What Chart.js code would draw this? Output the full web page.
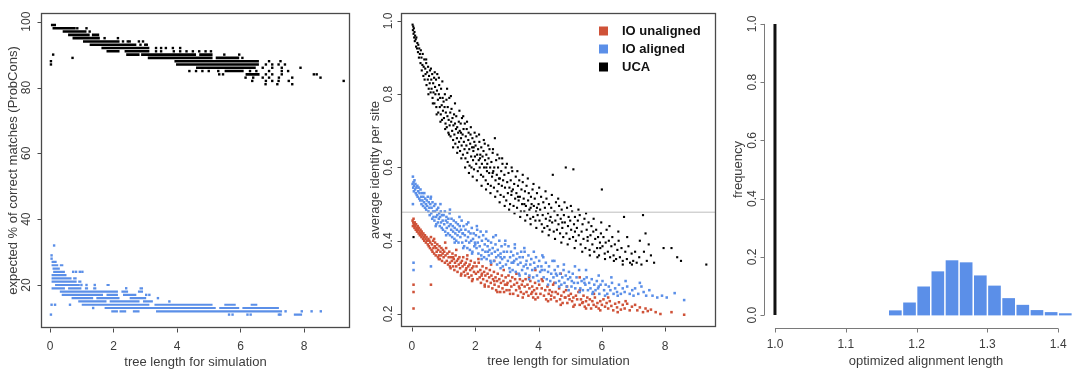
<!DOCTYPE html>
<html lang="en">
<head>
<meta charset="UTF-8">
<title>Alignment identity vs tree length</title>
<script src="https://cdn.jsdelivr.net/npm/chart.js"></script>
<style>
  body { margin: 0; background: #fff; }
  #wrap { position: relative; width: 1074px; height: 369px; }
  canvas { position: absolute; top: 0; }
</style>
</head>
<body>
<div id="wrap">
  <canvas id="matchesChart" width="360" height="369" style="left:0"></canvas>
  <canvas id="identityChart" width="360" height="369" style="left:360px"></canvas>
  <canvas id="lengthChart" width="354" height="369" style="left:720px"></canvas>
</div>
<script>
// ---- panel 1 : expected % of correct matches (ProbCons) ----
// runs of points on one integer row: [percent, x from, x to]
const ucaRuns = [
  [99, 0.03, 0.19], [98, 0.08, 0.81], [97, 0.40, 1.15], [96, 0.57, 1.25], [96, 1.32, 1.55],
  [95, 0.71, 1.57], [94, 1.04, 2.19], [93, 1.25, 2.72], [92, 1.62, 3.13],
  [91, 1.78, 2.19], [91, 2.35, 3.13], [90, 2.40, 2.82], [90, 2.87, 4.60], [90, 4.70, 5.12],
  [89, 3.08, 5.12], [89, 5.22, 5.96], [88, 3.92, 6.58], [87, 3.97, 6.58], [86, 4.60, 6.48],
  [85, 5.50, 6.10], [84, 6.16, 6.60]
];
const ucaDots = [
  [0.86, 98], [1.15, 98], [1.25, 97], [1.72, 95], [2.14, 95],
  [2.3, 94], [2.45, 94], [2.51, 94], [2.8, 94], [2.93, 94], [2.85, 93], [3.0, 93], [3.05, 93],
  [3.34, 92], [3.5, 92], [3.65, 92], [3.87, 92], [4.1, 92],
  [3.34, 91], [3.5, 91], [3.9, 91], [4.1, 91], [4.3, 91], [4.5, 91], [4.7, 91], [4.9, 91], [5.07, 91],
  [5.49, 90], [5.96, 90], [6.06, 89], [6.9, 88], [7.26, 88],
  [6.8, 87], [7.0, 87], [7.2, 87], [7.4, 87], [6.7, 86], [7.0, 86], [7.3, 86], [7.89, 86],
  [4.39, 85], [4.6, 85], [4.8, 85], [5.0, 85], [5.3, 85], [6.3, 85], [6.5, 85], [6.9, 85], [7.3, 85], [7.5, 85],
  [5.33, 84], [5.45, 84], [6.8, 84], [7.0, 84], [7.3, 84], [8.31, 84], [8.4, 84],
  [6.16, 83], [6.4, 83], [6.7, 83], [6.9, 83], [7.21, 83], [7.63, 83], [8.52, 83],
  [6.37, 82], [6.8, 82], [7.0, 82], [7.2, 82], [7.52, 82], [9.25, 82],
  [6.79, 81], [7.16, 81], [7.63, 81],
  [0.03, 88], [0.03, 87], [0.1, 90], [0.71, 89]
];
const alignedRuns = [
  [27, 0.05, 0.21], [26, 0.05, 0.26], [26, 0.31, 0.42], [25, 0.08, 0.31], [24, 0.10, 0.47],
  [23, 0.05, 0.52], [22, 0.05, 0.68], [22, 0.73, 0.84], [21, 0.05, 0.84], [21, 0.89, 0.99],
  [20, 0.16, 0.94], [20, 1.78, 1.88],
  [19, 0.05, 0.47], [19, 0.57, 0.99], [19, 1.10, 1.20], [19, 1.36, 1.46], [19, 2.82, 2.93],
  [18, 0.31, 2.14], [18, 2.25, 2.46], [18, 2.77, 2.93],
  [17, 0.37, 1.67], [17, 1.78, 2.14], [17, 2.30, 2.72],
  [16, 0.68, 1.36], [16, 1.46, 2.19], [16, 2.51, 3.03],
  [15, 0.89, 1.78], [15, 1.88, 2.82], [15, 2.93, 3.24],
  [14, 1.00, 3.13], [14, 3.29, 5.12], [14, 5.49, 5.85], [14, 6.32, 6.53],
  [13, 1.72, 5.22], [13, 5.33, 5.96], [13, 6.06, 7.21],
  [12, 1.93, 2.14], [12, 2.19, 2.40], [12, 2.61, 2.82], [12, 3.34, 7.31], [11, 7.68, 7.94]
];
const alignedDots = [
  [0.13, 32], [0.05, 29], [0.05, 28], [0.73, 24], [0.82, 24], [0.94, 24], [1.02, 24],
  [0.99, 20], [1.15, 20], [1.41, 20], [2.4, 19], [3.03, 17], [3.13, 17], [3.4, 16], [3.76, 15],
  [0.05, 14], [0.16, 14], [0.63, 14], [1.36, 13],
  [7.42, 12], [7.93, 12], [8.24, 12], [8.53, 12],
  [0.03, 11], [5.64, 11], [5.75, 11], [6.22, 11], [6.32, 11], [7.21, 11], [7.26, 11]
];

// ---- panel 2 : average identity per site ----
const seriesNames = ['IO unaligned', 'IO aligned', 'UCA'];
const ucaIdentity = [
  [0.02,0.99],[0.03,0.975],[0.04,0.985],[0.05,0.965],[0.06,0.98],[0.07,0.955],[0.08,0.97],[0.09,0.945],[0.1,0.96],
  [0.12,0.95],[0.13,0.93],[0.14,0.955],[0.16,0.925],[0.17,0.94],[0.19,0.915],[0.2,0.935],[0.22,0.9],[0.23,0.925],
  [0.25,0.91],[0.27,0.885],[0.28,0.92],
  [0.3,0.9],[0.31,0.865],[0.33,0.88],[0.34,0.91],[0.36,0.85],[0.37,0.875],[0.39,0.895],[0.4,0.84],[0.42,0.87],
  [0.43,0.855],[0.45,0.885],[0.46,0.825],[0.48,0.86],[0.5,0.84],[0.51,0.875],[0.53,0.815],[0.54,0.85],[0.56,0.83],
  [0.57,0.865],[0.59,0.805],
  [0.61,0.84],[0.62,0.815],[0.64,0.855],[0.65,0.79],[0.67,0.83],[0.68,0.805],[0.7,0.845],[0.71,0.775],[0.73,0.82],
  [0.74,0.8],[0.76,0.84],[0.77,0.765],[0.79,0.81],[0.8,0.855],[0.82,0.785],[0.83,0.75],[0.85,0.8],[0.86,0.825],
  [0.88,0.765],[0.89,0.79],[0.91,0.745],[0.92,0.815],[0.94,0.77],[0.95,0.73],[0.97,0.79],[0.98,0.755],
  [1.0,0.78],[1.01,0.735],[1.03,0.765],[1.04,0.8],[1.06,0.72],[1.07,0.75],[1.09,0.785],[1.1,0.71],[1.12,0.74],
  [1.13,0.765],[1.15,0.695],[1.16,0.73],[1.18,0.79],[1.19,0.715],[1.21,0.75],[1.22,0.685],[1.24,0.725],[1.25,0.76],
  [1.27,0.7],[1.28,0.735],[1.3,0.675],[1.31,0.715],[1.33,0.745],[1.34,0.69],[1.36,0.72],[1.37,0.665],[1.39,0.705],
  [1.4,0.74],[1.42,0.68],[1.43,0.71],[1.45,0.655],[1.46,0.695],[1.48,0.725],[1.49,0.67],
  [1.51,0.7],[1.52,0.645],[1.54,0.72],[1.55,0.68],[1.57,0.66],[1.58,0.735],[1.6,0.69],[1.61,0.635],[1.63,0.705],
  [1.64,0.67],[1.66,0.65],[1.67,0.72],[1.69,0.625],[1.7,0.685],[1.72,0.66],[1.73,0.705],[1.75,0.64],[1.76,0.615],
  [1.78,0.675],[1.79,0.695],[1.81,0.65],[1.82,0.605],[1.84,0.665],[1.85,0.69],[1.87,0.63],[1.88,0.6],[1.9,0.655],
  [1.91,0.68],[1.93,0.62],[1.94,0.645],[1.96,0.595],[1.97,0.67],[1.99,0.63],
  [2.01,0.66],[2.03,0.61],[2.04,0.685],[2.06,0.635],[2.08,0.59],[2.09,0.65],[2.11,0.62],[2.13,0.67],[2.14,0.6],
  [2.16,0.635],[2.18,0.58],[2.19,0.655],[2.21,0.61],[2.23,0.63],[2.25,0.575],[2.26,0.645],[2.28,0.6],[2.3,0.665],
  [2.31,0.62],[2.33,0.565],[2.35,0.635],[2.37,0.59],[2.38,0.61],[2.4,0.555],[2.42,0.625],[2.44,0.585],[2.45,0.65],
  [2.47,0.6],[2.49,0.55],
  [2.51,0.615],[2.53,0.575],[2.55,0.64],[2.57,0.59],[2.59,0.545],[2.6,0.6],[2.62,0.68],[2.64,0.565],[2.66,0.62],
  [2.68,0.58],[2.7,0.535],[2.72,0.6],[2.74,0.555],[2.76,0.625],[2.78,0.57],[2.8,0.525],[2.82,0.59],[2.84,0.55],
  [2.86,0.61],[2.88,0.565],[2.9,0.52],[2.92,0.58],[2.94,0.545],[2.96,0.6],[2.98,0.51],
  [3.01,0.56],[3.03,0.53],[3.05,0.585],[3.08,0.545],[3.1,0.5],[3.12,0.565],[3.14,0.525],[3.17,0.59],[3.19,0.54],
  [3.21,0.495],[3.23,0.555],[3.26,0.515],[3.28,0.575],[3.3,0.53],[3.32,0.49],[3.35,0.55],[3.37,0.51],[3.39,0.565],
  [3.41,0.52],[3.44,0.48],[3.46,0.54],[3.48,0.5],
  [3.5,0.56],[3.53,0.515],[3.55,0.48],[3.57,0.535],[3.6,0.495],[3.62,0.55],[3.64,0.47],[3.67,0.51],[3.69,0.53],
  [3.71,0.485],[3.74,0.46],[3.76,0.52],[3.78,0.5],[3.81,0.54],[3.83,0.465],[3.85,0.495],[3.88,0.515],[3.9,0.455],
  [3.92,0.48],[3.95,0.53],[3.97,0.47],
  [4.0,0.5],[4.03,0.455],[4.05,0.485],[4.08,0.52],[4.1,0.445],[4.13,0.47],[4.15,0.505],[4.18,0.435],[4.2,0.49],
  [4.23,0.46],[4.25,0.515],[4.28,0.44],[4.3,0.475],[4.33,0.5],[4.35,0.43],[4.38,0.465],[4.4,0.49],[4.43,0.45],
  [4.45,0.58],[4.48,0.425],
  [4.5,0.48],[4.53,0.455],[4.55,0.505],[4.58,0.43],[4.6,0.47],[4.63,0.445],[4.65,0.495],[4.68,0.42],[4.7,0.46],
  [4.73,0.485],[4.75,0.435],[4.78,0.41],[4.8,0.47],[4.83,0.45],[4.86,0.6],[4.88,0.42],[4.9,0.49],[4.93,0.44],
  [4.95,0.465],[4.98,0.405],
  [5.0,0.455],[5.03,0.43],[5.06,0.48],[5.09,0.41],[5.1,0.595],[5.12,0.445],[5.15,0.465],[5.18,0.4],[5.21,0.435],
  [5.24,0.455],[5.27,0.415],[5.3,0.47],[5.33,0.39],[5.36,0.425],[5.39,0.445],[5.42,0.405],[5.45,0.46],[5.48,0.38],
  [5.52,0.43],[5.55,0.4],[5.58,0.45],[5.61,0.375],[5.64,0.415],[5.67,0.44],[5.7,0.39],[5.73,0.425],[5.76,0.37],
  [5.79,0.405],[5.82,0.43],[5.85,0.38],[5.88,0.41],[5.91,0.36],[5.94,0.395],[5.97,0.42],
  [6.0,0.54],[6.02,0.385],[6.05,0.41],[6.09,0.365],[6.12,0.395],[6.15,0.43],[6.19,0.37],[6.22,0.4],[6.26,0.355],
  [6.3,0.385],[6.33,0.41],[6.37,0.36],[6.41,0.39],[6.45,0.35],[6.49,0.375],[6.53,0.4],[6.57,0.355],[6.62,0.38],
  [6.66,0.345],[6.7,0.465],[6.74,0.37],[6.79,0.35],[6.84,0.385],[6.89,0.34],[6.94,0.365],[6.99,0.345],
  [7.05,0.37],[7.1,0.34],[7.18,0.355],[7.25,0.335],[7.3,0.47],[7.33,0.37],[7.38,0.42],[7.42,0.345],[7.48,0.39],
  [7.55,0.36],[7.65,0.34],[7.95,0.38],[8.2,0.38],[8.38,0.355],[8.5,0.345],[9.3,0.335],[0.05,0.41],
  // edges of the cloud
  [0.45,0.895],[0.52,0.8],[0.6,0.87],[0.66,0.775],[0.72,0.86],[0.78,0.745],[0.85,0.845],[0.9,0.725],[0.96,0.835],
  [1.05,0.705],[1.11,0.815],[1.17,0.69],[1.23,0.795],[1.3,0.655],[1.36,0.775],[1.43,0.64],[1.5,0.755],[1.56,0.625],
  [1.62,0.74],[1.68,0.6],[1.74,0.725],[1.8,0.585],[1.86,0.71],[1.92,0.575],[1.98,0.695],[2.05,0.565],[2.12,0.69],
  [2.2,0.55],[2.27,0.675],[2.34,0.54],[2.41,0.66],[2.48,0.53],[2.56,0.65],[2.63,0.52],[2.7,0.635],[2.77,0.505],
  [2.85,0.625],[2.93,0.495],[3.0,0.61],[3.07,0.485],[3.15,0.6],[3.24,0.475],[3.33,0.59],[3.42,0.465],[3.5,0.58],
  [3.58,0.455],[3.66,0.57],[3.75,0.445],[3.84,0.555],[3.93,0.435],[4.02,0.545],[4.12,0.425],[4.22,0.535],
  [4.32,0.415],[4.42,0.525],[4.52,0.405],[4.62,0.515],[4.72,0.395],[4.82,0.505],[4.92,0.39],[5.02,0.495],
  [5.14,0.38],[5.26,0.485],[5.38,0.37],[5.5,0.475],[5.62,0.36],[5.74,0.46],[5.86,0.355],[5.98,0.45],[6.1,0.35],
  [6.24,0.44],[6.38,0.345],[6.52,0.425],[6.66,0.335],[6.8,0.41],[6.95,0.335],[7.2,0.4],
  [1.55,0.695],[1.95,0.655],[2.35,0.6],[2.75,0.57],[3.15,0.535],[3.55,0.5],[3.95,0.49],[4.35,0.455],[4.75,0.45],
  [5.15,0.425],[5.55,0.41],[5.95,0.38],[2.15,0.625],[2.55,0.585],[3.35,0.52],[3.75,0.49]
];
const alignedIdentity = [
  [0.02,0.555],[0.03,0.575],[0.04,0.545],[0.05,0.56],[0.06,0.535],[0.07,0.55],[0.08,0.565],[0.1,0.54],[0.11,0.555],
  [0.12,0.53],[0.14,0.545],[0.15,0.525],[0.17,0.55],[0.18,0.52],[0.2,0.535],[0.21,0.545],[0.23,0.515],[0.24,0.53],
  [0.26,0.51],[0.27,0.54],[0.29,0.52],[0.3,0.5],[0.32,0.53],[0.33,0.51],[0.35,0.495],[0.36,0.52],[0.38,0.505],
  [0.39,0.53],[0.41,0.49],[0.42,0.515],[0.44,0.5],[0.45,0.485],[0.47,0.51],[0.48,0.495],
  [0.5,0.52],[0.52,0.48],[0.53,0.505],[0.55,0.49],[0.56,0.47],[0.58,0.5],[0.59,0.515],[0.61,0.475],[0.62,0.49],
  [0.64,0.46],[0.65,0.505],[0.67,0.48],[0.68,0.465],[0.7,0.495],[0.71,0.455],[0.73,0.48],[0.74,0.5],[0.76,0.465],
  [0.77,0.445],[0.79,0.485],[0.8,0.47],[0.82,0.45],[0.83,0.49],[0.85,0.46],[0.86,0.475],[0.88,0.44],[0.89,0.465],
  [0.91,0.48],[0.92,0.45],[0.94,0.435],[0.95,0.47],[0.97,0.455],[0.98,0.43],
  [1.0,0.47],[1.02,0.445],[1.04,0.48],[1.05,0.425],[1.07,0.455],[1.09,0.465],[1.1,0.435],[1.12,0.45],[1.14,0.42],
  [1.15,0.46],[1.17,0.44],[1.19,0.475],[1.2,0.415],[1.22,0.445],[1.24,0.43],[1.25,0.46],[1.27,0.41],[1.29,0.44],
  [1.3,0.425],[1.32,0.455],[1.34,0.405],[1.35,0.435],[1.37,0.42],[1.39,0.45],[1.4,0.4],[1.42,0.43],[1.44,0.415],
  [1.45,0.445],[1.47,0.395],[1.49,0.425],
  [1.51,0.44],[1.53,0.41],[1.55,0.43],[1.57,0.455],[1.59,0.395],[1.61,0.42],[1.63,0.44],[1.65,0.385],[1.67,0.415],
  [1.69,0.43],[1.71,0.4],[1.73,0.445],[1.75,0.38],[1.77,0.41],[1.79,0.425],[1.81,0.395],[1.83,0.375],[1.85,0.42],
  [1.87,0.4],[1.89,0.435],[1.91,0.37],[1.93,0.405],[1.95,0.42],[1.97,0.385],[1.99,0.395],
  [2.02,0.415],[2.04,0.38],[2.06,0.43],[2.08,0.395],[2.1,0.365],[2.12,0.41],[2.14,0.385],[2.17,0.425],[2.19,0.36],
  [2.21,0.4],[2.23,0.375],[2.25,0.415],[2.28,0.355],[2.3,0.39],[2.32,0.37],[2.34,0.405],[2.36,0.35],[2.39,0.385],
  [2.41,0.4],[2.43,0.36],[2.45,0.375],[2.48,0.345],
  [2.5,0.395],[2.52,0.365],[2.55,0.38],[2.57,0.41],[2.59,0.345],[2.62,0.37],[2.64,0.39],[2.66,0.355],[2.69,0.335],
  [2.71,0.375],[2.73,0.36],[2.76,0.4],[2.78,0.34],[2.8,0.365],[2.83,0.385],[2.85,0.35],[2.87,0.33],[2.9,0.37],
  [2.92,0.355],[2.94,0.39],[2.97,0.335],
  [3.0,0.37],[3.03,0.345],[3.05,0.385],[3.08,0.325],[3.1,0.355],[3.13,0.37],[3.15,0.34],[3.18,0.32],[3.2,0.36],
  [3.23,0.345],[3.25,0.38],[3.28,0.315],[3.3,0.35],[3.33,0.365],[3.35,0.335],[3.38,0.31],[3.4,0.355],[3.43,0.34],
  [3.45,0.37],[3.48,0.32],
  [3.5,0.355],[3.53,0.33],[3.56,0.37],[3.59,0.31],[3.62,0.345],[3.65,0.325],[3.68,0.36],[3.71,0.305],[3.74,0.335],
  [3.77,0.35],[3.8,0.32],[3.83,0.3],[3.86,0.34],[3.89,0.325],[3.92,0.355],[3.95,0.305],[3.98,0.33],
  [4.02,0.345],[4.05,0.315],[4.09,0.33],[4.12,0.36],[4.16,0.3],[4.19,0.32],[4.23,0.34],[4.26,0.295],[4.3,0.315],
  [4.33,0.33],[4.37,0.29],[4.4,0.31],[4.44,0.345],[4.47,0.3],[4.51,0.32],[4.54,0.285],[4.58,0.305],[4.61,0.33],
  [4.65,0.29],[4.68,0.31],[4.72,0.28],[4.75,0.3],[4.79,0.32],[4.82,0.285],[4.86,0.305],[4.89,0.275],[4.93,0.295],
  [4.96,0.315],
  [5.0,0.3],[5.04,0.275],[5.08,0.31],[5.12,0.285],[5.16,0.27],[5.2,0.3],[5.24,0.285],[5.28,0.32],[5.32,0.27],
  [5.36,0.29],[5.4,0.265],[5.44,0.295],[5.48,0.28],[5.52,0.3],[5.56,0.265],[5.6,0.285],[5.64,0.27],[5.68,0.295],
  [5.72,0.26],[5.76,0.28],[5.8,0.265],[5.84,0.29],[5.88,0.27],[5.92,0.255],[5.96,0.28],
  [6.02,0.29],[6.07,0.265],[6.12,0.28],[6.17,0.255],[6.22,0.275],[6.27,0.265],[6.32,0.285],[6.37,0.255],[6.42,0.27],
  [6.48,0.26],[6.54,0.28],[6.6,0.255],[6.66,0.27],[6.72,0.26],[6.8,0.275],[6.88,0.255],[6.96,0.265],
  [7.05,0.27],[7.15,0.255],[7.25,0.275],[7.32,0.26],[7.4,0.25],[7.5,0.265],[7.6,0.25],[7.75,0.245],[7.9,0.25],
  [8.05,0.245],[8.3,0.257],[8.6,0.238],
  [0.05,0.34],[0.05,0.32],[0.6,0.33],[0.03,0.5],
  // edges of the cloud
  [0.6,0.52],[0.75,0.44],[0.9,0.5],[1.08,0.415],[1.2,0.485],[1.35,0.395],[1.5,0.465],[1.62,0.38],[1.78,0.45],
  [1.9,0.365],[2.05,0.44],[2.2,0.35],[2.35,0.425],[2.5,0.34],[2.65,0.415],[2.8,0.325],[2.95,0.4],[3.1,0.315],
  [3.25,0.39],[3.4,0.305],[3.55,0.38],[3.7,0.295],[3.85,0.37],[4.0,0.29],[4.15,0.355],[4.3,0.28],[4.5,0.345],
  [4.65,0.275],[4.8,0.335],[4.95,0.265],[5.15,0.33],[5.3,0.26],[5.5,0.32],[5.7,0.255],[5.9,0.305],[6.1,0.25],
  [6.3,0.3],[6.5,0.25],[6.75,0.29],[7.0,0.25],[7.2,0.285],
  [1.6,0.42],[2.0,0.39],[2.4,0.37],[2.8,0.355],[3.2,0.34],[3.6,0.335],[4.1,0.32],[4.55,0.31],[5.05,0.29],
  [5.45,0.285],[5.9,0.275]
];
const unalignedIdentity = [
  [0.02,0.455],[0.03,0.44],[0.04,0.45],[0.05,0.46],[0.06,0.445],[0.08,0.435],[0.09,0.45],[0.1,0.44],[0.12,0.43],
  [0.13,0.445],[0.15,0.435],[0.16,0.425],[0.18,0.44],[0.19,0.43],[0.21,0.42],[0.22,0.435],[0.24,0.425],[0.25,0.415],
  [0.27,0.43],[0.28,0.42],[0.3,0.41],[0.31,0.425],[0.33,0.415],[0.35,0.405],[0.36,0.42],[0.38,0.41],[0.39,0.4],
  [0.41,0.415],[0.43,0.405],[0.44,0.395],[0.46,0.41],[0.48,0.4],
  [0.5,0.39],[0.52,0.405],[0.53,0.385],[0.55,0.4],[0.57,0.38],[0.58,0.395],[0.6,0.41],[0.62,0.375],[0.63,0.39],
  [0.65,0.37],[0.67,0.4],[0.68,0.38],[0.7,0.365],[0.72,0.385],[0.73,0.395],[0.75,0.36],[0.77,0.38],[0.78,0.37],
  [0.8,0.39],[0.82,0.355],[0.83,0.375],[0.85,0.36],[0.87,0.385],[0.88,0.35],[0.9,0.37],[0.92,0.36],[0.93,0.38],
  [0.95,0.345],[0.97,0.365],[0.98,0.375],
  [1.0,0.355],[1.02,0.37],[1.04,0.34],[1.06,0.36],[1.08,0.38],[1.1,0.345],[1.12,0.365],[1.14,0.335],[1.16,0.355],
  [1.18,0.37],[1.2,0.34],[1.22,0.325],[1.24,0.355],[1.26,0.345],[1.28,0.365],[1.3,0.33],[1.32,0.35],[1.34,0.32],
  [1.36,0.34],[1.38,0.36],[1.4,0.33],[1.42,0.345],[1.44,0.315],[1.46,0.35],[1.48,0.335],
  [1.5,0.355],[1.52,0.325],[1.54,0.34],[1.56,0.31],[1.58,0.345],[1.6,0.33],[1.62,0.355],[1.64,0.315],[1.66,0.335],
  [1.68,0.305],[1.7,0.34],[1.72,0.325],[1.74,0.35],[1.76,0.31],[1.78,0.33],[1.8,0.3],[1.82,0.335],[1.84,0.32],
  [1.86,0.345],[1.88,0.305],[1.9,0.325],[1.92,0.295],[1.94,0.33],[1.96,0.315],[1.98,0.34],
  [2.02,0.31],[2.04,0.33],[2.07,0.295],[2.09,0.315],[2.11,0.34],[2.14,0.3],[2.16,0.32],[2.18,0.285],[2.21,0.31],
  [2.23,0.33],[2.25,0.295],[2.28,0.315],[2.3,0.28],[2.32,0.305],[2.35,0.325],[2.37,0.29],[2.39,0.31],[2.42,0.275],
  [2.44,0.3],[2.46,0.32],[2.49,0.285],
  [2.51,0.305],[2.54,0.27],[2.56,0.295],[2.59,0.315],[2.61,0.28],[2.64,0.3],[2.66,0.265],[2.69,0.29],[2.71,0.31],
  [2.74,0.275],[2.76,0.295],[2.79,0.26],[2.81,0.285],[2.84,0.305],[2.86,0.27],[2.89,0.29],[2.91,0.26],[2.94,0.28],
  [2.96,0.3],[2.99,0.265],
  [3.02,0.285],[3.05,0.305],[3.08,0.265],[3.11,0.29],[3.14,0.275],[3.17,0.3],[3.2,0.255],[3.23,0.28],[3.26,0.295],
  [3.29,0.265],[3.32,0.285],[3.35,0.25],[3.38,0.275],[3.41,0.295],[3.44,0.26],[3.47,0.28],
  [3.5,0.29],[3.53,0.255],[3.56,0.275],[3.59,0.295],[3.62,0.26],[3.65,0.28],[3.68,0.25],[3.71,0.27],[3.74,0.29],
  [3.77,0.255],[3.8,0.275],[3.83,0.245],[3.86,0.265],[3.89,0.285],[3.92,0.255],[3.95,0.27],[3.98,0.245],
  [4.02,0.28],[4.06,0.255],[4.1,0.27],[4.13,0.29],[4.17,0.25],[4.21,0.265],[4.24,0.24],[4.28,0.275],[4.32,0.255],
  [4.35,0.265],[4.39,0.24],[4.43,0.26],[4.46,0.28],[4.5,0.245],[4.54,0.26],[4.57,0.235],[4.61,0.255],[4.65,0.27],
  [4.68,0.24],[4.72,0.25],[4.76,0.23],[4.8,0.26],[4.83,0.245],[4.87,0.265],[4.91,0.23],[4.95,0.25],[4.98,0.24],
  [5.02,0.255],[5.06,0.235],[5.1,0.245],[5.14,0.225],[5.18,0.25],[5.22,0.24],[5.26,0.26],[5.3,0.225],[5.34,0.24],
  [5.38,0.23],[5.42,0.25],[5.46,0.22],[5.5,0.235],[5.54,0.245],[5.58,0.225],[5.62,0.24],[5.66,0.215],[5.7,0.235],
  [5.74,0.225],[5.78,0.245],[5.82,0.22],[5.86,0.23],[5.9,0.215],[5.95,0.235],
  [6.0,0.225],[6.05,0.24],[6.1,0.22],[6.15,0.23],[6.2,0.215],[6.25,0.235],[6.3,0.222],[6.36,0.21],[6.42,0.228],
  [6.48,0.218],[6.54,0.232],[6.6,0.212],[6.66,0.225],[6.72,0.215],[6.8,0.228],[6.88,0.21],[6.95,0.22],
  [7.05,0.225],[7.12,0.21],[7.2,0.218],[7.3,0.205],[7.38,0.215],[7.45,0.208],[7.55,0.212],[7.7,0.205],[7.85,0.2],
  [8.2,0.205],[8.6,0.198],
  [0.05,0.28],[0.05,0.26],[0.05,0.215],[0.6,0.28],[2.6,0.345],[3.9,0.32],[4.7,0.31],[5.3,0.3],
  // edges of the cloud
  [0.7,0.405],[0.85,0.35],[1.05,0.395],[1.2,0.33],[1.4,0.375],[1.55,0.305],[1.75,0.36],[1.9,0.29],[2.1,0.35],
  [2.3,0.275],[2.5,0.335],[2.7,0.26],[2.9,0.32],[3.1,0.255],[3.3,0.31],[3.5,0.245],[3.7,0.3],[3.9,0.24],
  [4.1,0.295],[4.3,0.235],[4.5,0.285],[4.7,0.225],[4.9,0.275],[5.1,0.22],[5.3,0.265],[5.5,0.215],[5.75,0.255],
  [5.95,0.21],[6.2,0.245],[6.5,0.205],[6.75,0.235],
  [1.3,0.355],[1.7,0.32],[2.2,0.305],[2.6,0.29],[3.0,0.28],[3.4,0.27],[3.8,0.26],[4.4,0.25],[4.85,0.245],[5.4,0.232]
];
const refIdentity = 0.478;

// ---- panel 3 : optimized alignment length ----
const lengthBins = [1.17, 1.19, 1.21, 1.23, 1.25, 1.27, 1.29, 1.31, 1.33, 1.35, 1.37, 1.39, 1.41];
const ioFrequency = [0.015, 0.042, 0.097, 0.149, 0.187, 0.18, 0.135, 0.10, 0.057, 0.034, 0.016, 0.009, 0.005];
const ucaLength = 1.0;
const ucaFrequency = 1.0;

const treeTicks = [0, 2, 4, 6, 8];
const matchTicks = [20, 40, 60, 80, 100];
const identityTicks = [0.2, 0.4, 0.6, 0.8, 1.0];
const freqTicks = [0.0, 0.2, 0.4, 0.6, 0.8, 1.0];
const lengthTicks = [1.0, 1.1, 1.2, 1.3, 1.4];

const RED = '#cf5238';
const BLUE = '#5b8fe8';
const FONT = '"Liberation Sans", Arial, Helvetica, sans-serif';

function toPoints(pairs) {
    return pairs.map(p => ({ x: p[0], y: p[1] }));
}
// rows become short horizontal strokes, broken by null points
function runsToLine(runs) {
    const out = [];
    runs.forEach(r => {
        out.push({ x: r[1], y: r[0] }, { x: r[2], y: r[0] }, { x: r[2], y: null });
    });
    return out;
}

// R style axes drawn around the chart area
function makeAxes(cfg) {
    return {
        id: 'rAxes',
        afterDraw(chart) {
            const ctx = chart.ctx, a = chart.chartArea;
            const xs = chart.scales.x, ys = chart.scales.y;
            ctx.save();
            ctx.strokeStyle = cfg.lineColor;
            ctx.fillStyle = '#3c3c3c';
            ctx.lineWidth = 1;
            if (cfg.box) {
                ctx.lineWidth = 1.3;
                ctx.strokeRect(a.left + 0.5, a.top + 0.5, a.right - a.left - 1, a.bottom - a.top - 1);
                ctx.lineWidth = 1;
            }
            const xAxisY = Math.round(a.bottom + (cfg.xGap || 0)) + 0.5;
            const yAxisX = Math.round(a.left - (cfg.yGap || 0)) + 0.5;
            ctx.beginPath();
            if (!cfg.box) {
                const x0 = xs.getPixelForValue(cfg.xTicks[0]), x1 = xs.getPixelForValue(cfg.xTicks[cfg.xTicks.length - 1]);
                ctx.moveTo(x0, xAxisY); ctx.lineTo(x1, xAxisY);
                const y0 = ys.getPixelForValue(cfg.yTicks[0]), y1 = ys.getPixelForValue(cfg.yTicks[cfg.yTicks.length - 1]);
                ctx.moveTo(yAxisX, y0); ctx.lineTo(yAxisX, y1);
            }
            cfg.xTicks.forEach(v => {
                const px = Math.round(xs.getPixelForValue(v)) + 0.5;
                ctx.moveTo(px, xAxisY); ctx.lineTo(px, xAxisY + 4);
            });
            cfg.yTicks.forEach(v => {
                const py = Math.round(ys.getPixelForValue(v)) + 0.5;
                ctx.moveTo(yAxisX, py); ctx.lineTo(yAxisX - 4, py);
            });
            ctx.stroke();

            ctx.font = '12px ' + FONT;
            ctx.textAlign = 'center';
            ctx.textBaseline = 'middle';
            cfg.xTicks.forEach(v => {
                ctx.fillText(cfg.xFmt(v), xs.getPixelForValue(v), cfg.xLabelY);
            });
            cfg.yTicks.forEach(v => {
                ctx.save();
                ctx.translate(cfg.yLabelX, ys.getPixelForValue(v));
                ctx.rotate(-Math.PI / 2);
                ctx.fillText(cfg.yFmt(v), 0, 0);
                ctx.restore();
            });
            ctx.font = '13px ' + FONT;
            ctx.fillText(cfg.xTitle, cfg.xTitleX || (a.left + a.right) / 2, cfg.xTitleY);
            ctx.save();
            ctx.translate(cfg.yTitleX, cfg.yTitleMid || (a.top + a.bottom) / 2);
            ctx.rotate(-Math.PI / 2);
            ctx.fillText(cfg.yTitle, 0, 0);
            ctx.restore();

            if (cfg.legend) {
                ctx.font = 'bold 13px ' + FONT;
                ctx.textAlign = 'left';
                cfg.legend.forEach((item, i) => {
                    const y = cfg.legendTop + i * 18;
                    ctx.fillStyle = item.color;
                    ctx.fillRect(cfg.legendX, y - 4.5, 9, 9);
                    ctx.fillStyle = '#111';
                    ctx.fillText(item.name, cfg.legendX + 23, y + 0.5);
                });
            }
            ctx.restore();
        }
    };
}

const common = {
    responsive: false,
    animation: false,
    devicePixelRatio: 1,
    events: [],
    plugins: { legend: { display: false }, tooltip: { enabled: false } }
};

// panel 1
new Chart(document.getElementById('matchesChart'), {
    type: 'scatter',
    data: {
        datasets: [
            { data: runsToLine(alignedRuns), showLine: true, borderColor: BLUE, borderWidth: 2.2,
              borderCapStyle: 'butt', pointRadius: 0 },
            { data: toPoints(alignedDots), backgroundColor: BLUE, pointStyle: 'rect', pointRadius: 1.7, pointBorderWidth: 0 },
            { data: runsToLine(ucaRuns), showLine: true, borderColor: '#000', borderWidth: 2.6,
              borderCapStyle: 'butt', pointRadius: 0 },
            { data: toPoints(ucaDots), backgroundColor: '#000', pointStyle: 'rect', pointRadius: 1.7, pointBorderWidth: 0 }
        ]
    },
    options: Object.assign({}, common, {
        layout: { padding: { left: 41, right: 10, top: 13, bottom: 41 } },
        scales: {
            x: { type: 'linear', display: false, min: -0.283, max: 9.449 },
            y: { type: 'linear', display: false, min: 6.93, max: 102.64 }
        }
    }),
    plugins: [makeAxes({
        box: true, lineColor: '#4a4a4a',
        xTicks: treeTicks, yTicks: matchTicks, xFmt: v => String(v), yFmt: v => String(v),
        xLabelY: 347, yLabelX: 27, xTitle: 'tree length for simulation', xTitleY: 362,
        yTitle: 'expected % of correct matches (ProbCons)', yTitleX: 13
    })]
});

// panel 2
new Chart(document.getElementById('identityChart'), {
    type: 'scatter',
    data: {
        datasets: [
            { data: [{ x: -0.346, y: refIdentity }, { x: 9.606, y: refIdentity }], showLine: true,
              borderColor: '#bdbdbd', borderWidth: 1, pointRadius: 0 },
            { label: seriesNames[1], data: toPoints(alignedIdentity), backgroundColor: BLUE,
              pointStyle: 'rect', pointRadius: 1.8, pointBorderWidth: 0 },
            { label: seriesNames[0], data: toPoints(unalignedIdentity), backgroundColor: RED,
              pointStyle: 'rect', pointRadius: 1.8, pointBorderWidth: 0 },
            { label: seriesNames[2], data: toPoints(ucaIdentity), backgroundColor: '#000',
              pointStyle: 'rect', pointRadius: 1.5, pointBorderWidth: 0 }
        ]
    },
    options: Object.assign({}, common, {
        layout: { padding: { left: 41, right: 3, top: 13, bottom: 42 } },
        scales: {
            x: { type: 'linear', display: false, min: -0.346, max: 9.606 },
            y: { type: 'linear', display: false, min: 0.1645, max: 1.0218 }
        }
    }),
    plugins: [makeAxes({
        box: true, lineColor: '#4a4a4a',
        xTicks: treeTicks, yTicks: identityTicks, xFmt: v => String(v), yFmt: v => v.toFixed(1),
        xLabelY: 347, yLabelX: 29, xTitle: 'tree length for simulation', xTitleY: 361,
        yTitle: 'average identity per site', yTitleX: 15,
        legend: [
            { name: seriesNames[0], color: RED },
            { name: seriesNames[1], color: BLUE },
            { name: seriesNames[2], color: '#000' }
        ],
        legendX: 239, legendTop: 31
    })]
});

// panel 3
new Chart(document.getElementById('lengthChart'), {
    type: 'bar',
    data: {
        datasets: [
            { type: 'bar', data: lengthBins.map((x, i) => ({ x: x, y: ioFrequency[i] })),
              backgroundColor: BLUE, borderWidth: 0, barThickness: 12 },
            { type: 'line', data: [{ x: ucaLength, y: 0 }, { x: ucaLength, y: ucaFrequency }],
              borderColor: '#111', borderWidth: 3, pointRadius: 0, borderCapStyle: 'butt' }
        ]
    },
    options: Object.assign({}, common, {
        layout: { padding: { left: 44, right: 0, top: 12, bottom: 42 } },
        scales: {
            x: { type: 'linear', display: false, min: 0.9845, max: 1.4223, offset: false },
            y: { type: 'linear', display: false, min: -0.041, max: 1.041 }
        }
    }),
    plugins: [makeAxes({
        box: false, lineColor: '#7a7a7a', xGap: 1, yGap: 0,
        xTicks: lengthTicks, yTicks: freqTicks, xFmt: v => v.toFixed(1), yFmt: v => v.toFixed(1),
        xLabelY: 345, yLabelX: 33, xTitle: 'optimized alignment length', xTitleY: 361, xTitleX: 206,
        yTitle: 'frequency', yTitleX: 18
    })]
});
</script>
</body>
</html>
